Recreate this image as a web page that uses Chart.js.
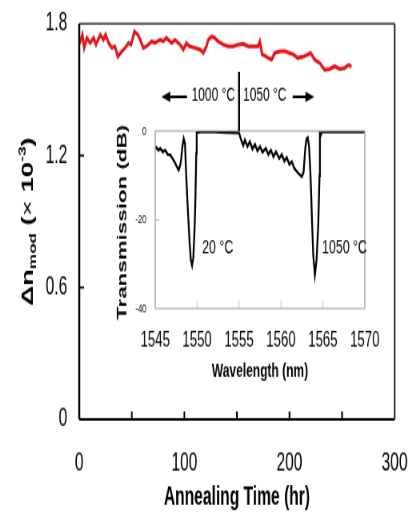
<!DOCTYPE html>
<html>
<head>
<meta charset="utf-8">
<script src="https://cdn.jsdelivr.net/npm/chart.js@4.4.1/dist/chart.umd.min.js"></script>
<style>
  html, body { margin: 0; padding: 0; background: #fff; }
  #wrap { position: relative; width: 409px; height: 514px; overflow: hidden; }
  /* the original figure is stretched vertically, so the canvases are drawn
     wider/shorter and squeezed back with inline css sizes */
  #main { position: absolute; left: 0; top: 0; }
  #inset { position: absolute; left: 100px; top: 60px; }
</style>
</head>
<body>
<div id="wrap">
  <canvas id="main" width="511" height="391" style="width:409px;height:514px"></canvas>
  <canvas id="inset" width="350" height="251" style="width:280px;height:330px"></canvas>
</div>
<script>
// main plot: index modulation vs annealing time
const annealHours = [0, 1, 3, 4.7, 7.3, 10.4, 13.6, 16, 20, 23, 25, 28, 31, 34, 36.7, 40.5, 43.7, 46.8, 49.3,
  52.5, 55.7, 58, 61, 64, 69, 72, 77, 80, 83, 88, 91, 96, 99, 102, 105, 110, 115, 118, 121, 122.7, 126,
  129, 132, 137, 141.7, 146.5, 151, 156, 160.7, 165.4, 170, 171.8, 174, 178, 183, 186, 191, 195.6, 200,
  203.5, 208, 213, 217.7, 220, 224, 228.8, 233.5, 238, 243, 247.7, 252.5, 256, 259];
const deltaN = [1.71, 1.72, 1.75, 1.69, 1.735, 1.712, 1.735, 1.705, 1.75, 1.727, 1.75, 1.712, 1.69, 1.697, 1.65,
  1.674, 1.69, 1.712, 1.705, 1.765, 1.75, 1.727, 1.69, 1.697, 1.72, 1.712, 1.727, 1.72, 1.735, 1.712, 1.727,
  1.705, 1.682, 1.712, 1.697, 1.69, 1.682, 1.667, 1.697, 1.727, 1.742, 1.735, 1.72, 1.705, 1.697, 1.697,
  1.705, 1.709, 1.697, 1.697, 1.697, 1.72, 1.66, 1.65, 1.636, 1.667, 1.674, 1.674, 1.667, 1.66, 1.644, 1.65,
  1.66, 1.667, 1.636, 1.621, 1.59, 1.594, 1.606, 1.594, 1.598, 1.613, 1.606];
const hourTickLabels = [0, 100, 200, 300];
const hourTickMarks = [50, 100, 150, 200, 250];
const deltaNTicks = [0, 0.6, 1.2, 1.8];

// inset: transmission spectra (20 C left of 1555 nm, 1050 C right of it)
const wavelength = [1545.0, 1545.4, 1545.6, 1545.9, 1546.2, 1546.5, 1546.8, 1547.0, 1547.2, 1547.4, 1547.6,
  1547.8, 1548.0, 1548.1, 1548.25, 1548.4, 1548.55, 1548.7, 1548.9, 1549.1, 1549.25, 1549.4, 1549.55, 1549.7,
  1549.8, 1549.9, 1549.95, 1550.5, 1552, 1553.5, 1555.0, 1555.2, 1555.5, 1555.7, 1556.0, 1556.3, 1556.6,
  1556.9, 1557.2, 1557.5, 1557.8, 1558.2, 1558.5, 1558.8, 1559.1, 1559.4, 1559.8, 1560.1, 1560.4, 1560.7,
  1561.0, 1561.3, 1561.6, 1561.85, 1562.1, 1562.5, 1562.7, 1562.9, 1563.05, 1563.2, 1563.35, 1563.5, 1563.6,
  1563.7, 1563.85, 1564.05, 1564.25, 1564.45, 1564.6, 1564.65, 1564.75, 1564.85, 1566, 1568, 1570];
const transmission = [-3.5, -4.3, -3.9, -4.7, -4.3, -5.3, -5.4, -6.0, -6.6, -7.3, -8.1,
  -8.8, -7.6, -6.2, -3.5, -1.7, -2.8, -10, -18, -25, -29, -30.3, -28.5, -22,
  -15, -5, -0.3, -0.2, -0.2, -0.3, -0.4, -1.7, -3.2, -2.0, -3.5, -2.4, -4.1,
  -3.0, -4.5, -3.5, -4.8, -3.9, -5.3, -4.3, -5.8, -4.7, -6.2, -5.3, -6.8, -6.0,
  -7.5, -6.9, -8.4, -9.0, -9.6, -10.3, -9.2, -3.9, -1.8, -1.5, -3.5, -9, -14,
  -20, -28, -32.4, -29, -21, -10, -0.5, -0.9, -0.2, -0.2, -0.2, -0.2];
const wlTicks = [1545, 1550, 1555, 1560, 1565, 1570];
const dbTicks = [0, -20, -40];

const FONT = "'Liberation Sans', Arial, Helvetica, sans-serif";

function fixTicks(values) {
  return function(scale) { scale.ticks = values.map(v => ({ value: v })); };
}

// fixed scale size, and no extra edge padding from the tick labels
function fixSize(prop, size) {
  return function(scale) {
    scale[prop] = size;
    scale.paddingLeft = scale.paddingRight = scale.paddingTop = scale.paddingBottom = 0;
  };
}

const mainDecor = {
  id: 'mainDecor',
  afterDraw(chart) {
    const { ctx, chartArea: a, scales: { x, y } } = chart;
    ctx.save();
    // frame
    ctx.strokeStyle = '#000';
    ctx.lineWidth = 2.5;
    ctx.beginPath(); ctx.moveTo(a.left, a.top); ctx.lineTo(a.left, a.bottom); ctx.stroke();
    ctx.lineWidth = 2;
    ctx.beginPath(); ctx.moveTo(a.left, a.bottom); ctx.lineTo(a.right, a.bottom); ctx.stroke();
    ctx.strokeStyle = '#333';
    ctx.lineWidth = 1.6;
    ctx.beginPath(); ctx.moveTo(a.left, a.top); ctx.lineTo(a.right, a.top); ctx.stroke();
    ctx.lineWidth = 2.2;
    ctx.beginPath(); ctx.moveTo(a.right, a.top); ctx.lineTo(a.right, a.bottom); ctx.stroke();
    // inward tick marks
    ctx.strokeStyle = '#000';
    ctx.lineWidth = 2;
    hourTickMarks.forEach(v => {
      const px = x.getPixelForValue(v);
      ctx.beginPath(); ctx.moveTo(px, a.bottom); ctx.lineTo(px, a.bottom - 6); ctx.stroke();
    });
    ctx.lineWidth = 1.6;
    [0.6, 1.2].forEach(v => {
      const py = y.getPixelForValue(v);
      ctx.beginPath(); ctx.moveTo(a.left, py); ctx.lineTo(a.left + 6, py); ctx.stroke();
    });

    // x title
    ctx.fillStyle = '#000';
    ctx.font = 'bold 19.5px ' + FONT;
    ctx.textAlign = 'center';
    ctx.textBaseline = 'alphabetic';
    ctx.fillText('Annealing Time (hr)', (a.left + a.right) / 2, 384);

    // y title with subscript / superscript
    const big = 'bold 21px ' + FONT;
    const small = 'bold 13px ' + FONT;
    const parts = [
      { t: '\u0394n', f: big, dy: 0 },
      { t: 'mod', f: small, dy: 4 },
      { t: ' (', f: big, dy: 0 },
      { t: '\u00d7', f: '21px ' + FONT, dy: 0 },
      { t: ' 10', f: big, dy: 0 },
      { t: '-3', f: small, dy: -9 },
      { t: ')', f: big, dy: 0 }
    ];
    let total = 0;
    parts.forEach(p => { ctx.font = p.f; p.w = ctx.measureText(p.t).width; total += p.w; });
    ctx.translate(41, (a.top + a.bottom) / 2);
    ctx.rotate(-Math.PI / 2);
    ctx.textAlign = 'left';
    let cx = -total / 2;
    parts.forEach(p => {
      ctx.font = p.f;
      ctx.fillText(p.t, cx, p.dy);
      cx += p.w;
    });
    ctx.restore();
  }
};

const insetDecor = {
  id: 'insetDecor',
  afterDraw(chart) {
    const { ctx, chartArea: a, scales: { x, y } } = chart;
    ctx.save();
    // grey frame
    ctx.strokeStyle = '#9a9a9a';
    ctx.lineWidth = 1.3;
    ctx.beginPath();
    ctx.moveTo(a.left, a.top); ctx.lineTo(a.left, a.bottom);
    ctx.moveTo(a.right, a.top); ctx.lineTo(a.right, a.bottom);
    ctx.stroke();
    ctx.lineWidth = 1;
    ctx.beginPath();
    ctx.moveTo(a.left, a.top); ctx.lineTo(a.right, a.top);
    ctx.moveTo(a.left, a.bottom); ctx.lineTo(a.right, a.bottom);
    ctx.stroke();
    ctx.strokeStyle = '#bbb';
    wlTicks.slice(1, -1).forEach(v => {
      const px = x.getPixelForValue(v);
      ctx.beginPath(); ctx.moveTo(px, a.bottom); ctx.lineTo(px, a.bottom - 6); ctx.stroke();
    });
    const p20 = y.getPixelForValue(-20);
    ctx.beginPath(); ctx.moveTo(a.left, p20); ctx.lineTo(a.left + 5, p20); ctx.stroke();

    // divider between the two anneal temperatures
    const xd = x.getPixelForValue(1555);
    ctx.strokeStyle = '#000';
    ctx.lineWidth = 2.4;
    ctx.beginPath(); ctx.moveTo(xd, 9); ctx.lineTo(xd, a.top); ctx.stroke();

    ctx.fillStyle = '#000';
    ctx.font = '15px ' + FONT;
    ctx.textBaseline = 'middle';
    ctx.textAlign = 'right';
    ctx.fillText('1000 \u00b0C', xd - 5, 27);
    ctx.textAlign = 'left';
    ctx.fillText('1050 \u00b0C', xd + 5, 27);

    // arrows
    const ay = 28;
    ctx.lineWidth = 2;
    ctx.beginPath(); ctx.moveTo(xd - 65, ay); ctx.lineTo(xd - 88, ay); ctx.stroke();
    ctx.beginPath(); ctx.moveTo(xd - 97, ay); ctx.lineTo(xd - 86, ay - 4); ctx.lineTo(xd - 86, ay + 4); ctx.closePath(); ctx.fill();
    ctx.beginPath(); ctx.moveTo(xd + 67, ay); ctx.lineTo(xd + 85, ay); ctx.stroke();
    ctx.beginPath(); ctx.moveTo(xd + 94, ay); ctx.lineTo(xd + 83, ay - 4); ctx.lineTo(xd + 83, ay + 4); ctx.closePath(); ctx.fill();

    // temperature labels next to the dips
    ctx.font = '15.5px ' + FONT;
    ctx.textBaseline = 'alphabetic';
    ctx.textAlign = 'left';
    ctx.fillText('20 \u00b0C', x.getPixelForValue(1550.6), y.getPixelForValue(-27.6));
    ctx.fillText('1050 \u00b0C', x.getPixelForValue(1564.9), y.getPixelForValue(-27.6));

    // titles
    ctx.font = 'bold 15px ' + FONT;
    ctx.textAlign = 'center';
    ctx.fillText('Wavelength (nm)', (a.left + a.right) / 2, 241);
    ctx.translate(33, (a.top + a.bottom) / 2 + 2);
    ctx.rotate(-Math.PI / 2);
    ctx.font = 'bold 17px ' + FONT;
    ctx.fillText('Transmission (dB)', 0, 0);
    ctx.restore();
  }
};

new Chart(document.getElementById('main'), {
  type: 'line',
  data: {
    datasets: [{
      data: annealHours.map((h, i) => ({ x: h, y: deltaN[i] })),
      borderColor: '#e3161c',
      borderWidth: 3,
      pointRadius: 0,
      tension: 0,
      fill: false
    }]
  },
  options: {
    responsive: false,
    animation: false,
    devicePixelRatio: 1,
    layout: { padding: { left: 0, right: 18, top: 18, bottom: 0 } },
    plugins: { legend: { display: false }, tooltip: { enabled: false } },
    scales: {
      x: {
        type: 'linear', min: 0, max: 300,
        grid: { display: false, drawTicks: false },
        border: { display: false },
        afterBuildTicks: fixTicks(hourTickLabels),
        afterFit: fixSize('height', 72),
        ticks: { padding: 22, color: '#000', maxRotation: 0, autoSkip: false,
                 font: { family: FONT, size: 19.4 }, callback: v => String(v) }
      },
      y: {
        type: 'linear', min: 0, max: 1.8,
        grid: { display: false, drawTicks: false },
        border: { display: false },
        afterBuildTicks: fixTicks(deltaNTicks),
        afterFit: fixSize('width', 99),
        ticks: { padding: 15, color: '#000', autoSkip: false,
                 font: { family: FONT, size: 19.4 },
                 callback: v => (v === 0 ? '0' : v.toFixed(1)) }
      }
    }
  },
  plugins: [mainDecor]
});

new Chart(document.getElementById('inset'), {
  type: 'line',
  data: {
    datasets: [{
      data: wavelength.map((w, i) => ({ x: w, y: transmission[i] })),
      borderColor: '#000',
      borderWidth: 2.3,
      pointRadius: 0,
      tension: 0,
      fill: false
    }]
  },
  options: {
    responsive: false,
    animation: false,
    devicePixelRatio: 1,
    layout: { padding: { left: 0, right: 19, top: 54, bottom: 0 } },
    plugins: { legend: { display: false }, tooltip: { enabled: false } },
    scales: {
      x: {
        type: 'linear', min: 1545, max: 1570,
        grid: { display: false, drawTicks: false },
        border: { display: false },
        afterBuildTicks: fixTicks(wlTicks),
        afterFit: fixSize('height', 62),
        ticks: { padding: 15, color: '#000', maxRotation: 0, autoSkip: false,
                 font: { family: FONT, size: 16.5 }, callback: v => String(v) }
      },
      y: {
        type: 'linear', min: -40, max: 0,
        grid: { display: false, drawTicks: false },
        border: { display: false },
        afterBuildTicks: fixTicks(dbTicks),
        afterFit: fixSize('width', 69),
        ticks: { padding: 11, color: '#000', autoSkip: false,
                 font: { family: FONT, size: 9.5 }, callback: v => String(v) }
      }
    }
  },
  plugins: [insetDecor]
});
</script>
</body>
</html>
